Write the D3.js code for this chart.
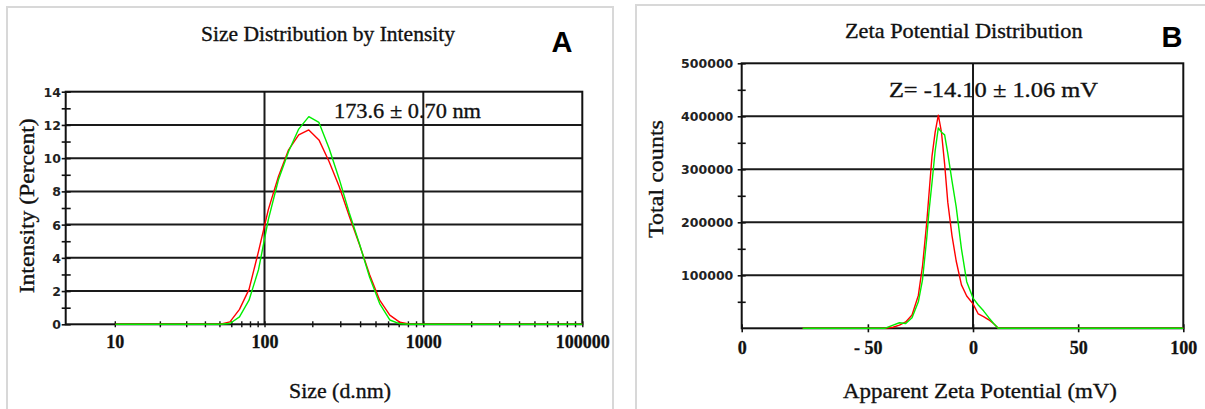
<!DOCTYPE html>
<html>
<head>
<meta charset="utf-8">
<script src="https://cdn.jsdelivr.net/npm/d3@7"></script>
<style>
  body { margin: 0; background: #fff; }
  svg { display: block; }
  .serif { font-family: "Liberation Serif", "Times New Roman", serif; fill: #111; stroke: #111; stroke-width: 0.35px; }
  .ylab { font-family: "DejaVu Sans", Verdana, sans-serif; font-weight: bold; font-size: 12.5px; fill: #222; }
  .xlab { font-family: "Liberation Serif", "Times New Roman", serif; font-weight: bold; font-size: 18px; fill: #111; stroke: #111; stroke-width: 0.3px; }
  .tag { font-family: "Liberation Sans", Arial, sans-serif; font-weight: bold; font-size: 29px; fill: #000; }
</style>
</head>
<body>
<svg id="chart" width="1205" height="409"></svg>
<script>
// ---- panel A: size distribution (Malvern bins, d.nm) ----
const sizeBins = [10.10, 11.70, 13.54, 15.69, 18.17, 21.04, 24.36, 28.21, 32.67, 37.84, 43.82, 50.75,
  58.77, 68.06, 78.82, 91.28, 105.7, 122.4, 141.8, 164.2, 190.1, 220.2, 255.0, 295.3, 342.0, 396.1,
  458.7, 531.2, 615.1, 712.4, 825.0, 955.4, 1106, 1281, 1484, 1718, 1990, 2305, 2669, 3091, 3580,
  4145, 4801, 5560, 6439, 7456, 8635, 10000];
const intensityRed = [0, 0, 0, 0, 0, 0, 0, 0, 0, 0, 0, 0,
  0.15, 0.9, 2.1, 4.4, 6.9, 8.9, 10.5, 11.4, 11.7, 11.1, 9.8, 8.3, 6.5, 4.8,
  3.0, 1.45, 0.55, 0.12, 0, 0, 0, 0, 0, 0, 0, 0, 0, 0, 0,
  0, 0, 0, 0, 0, 0, 0];
const intensityGreen = [0, 0, 0, 0, 0, 0, 0, 0, 0, 0, 0, 0,
  0.05, 0.45, 1.45, 3.3, 6.3, 8.7, 10.4, 11.75, 12.5, 12.15, 10.6, 8.75, 6.7, 4.85,
  2.85, 1.25, 0.26, 0.03, 0, 0, 0, 0, 0, 0, 0, 0, 0, 0, 0,
  0, 0, 0, 0, 0, 0, 0];
const sizeTicks = [10, 100, 1000, 10000];
const sizeTickLabels = ["10", "100", "1000", "100000"];
const intensityTicks = [0, 2, 4, 6, 8, 10, 12, 14];

// ---- panel B: zeta potential ----
const zetaMv = [-81, -42, -38, -35, -32, -29, -26, -24, -22, -21, -19.5, -18, -16.5, -15, -13.5,
  -12, -10, -8, -5.5, -3, 0, 2.5, 5, 7.5, 10, 12, 100];
const countsRed = [0, 0, 2000, 6000, 12000, 25000, 62000, 118000, 200000, 250000, 325000, 370000, 402000, 370000, 310000,
  238000, 175000, 127000, 82000, 61000, 46000, 27000, 22000, 16000, 8000, 0, 0];
const countsGreen = [0, 0, 6000, 10500, 9000, 20000, 50000, 92000, 170000, 218000, 275000, 335000, 378000, 370000, 365000,
  330000, 278000, 229000, 150000, 88000, 57000, 44000, 33000, 20000, 8000, 0, 0];
const zetaTicks = [-110, -50, 0, 50, 100];
const zetaTickLabels = ["0", "- 50", "0", "50", "100"];
const countTicks = [100000, 200000, 300000, 400000, 500000];

const svg = d3.select("#chart");

// panel frames
svg.append("rect").attr("x", 7).attr("y", 7).attr("width", 606).attr("height", 420)
  .attr("fill", "none").attr("stroke", "#d8d8d8").attr("stroke-width", 2);
svg.append("rect").attr("x", 636).attr("y", 5).attr("width", 600).attr("height", 420)
  .attr("fill", "none").attr("stroke", "#d8d8d8").attr("stroke-width", 2);

function text(x, y, str, cls, opts = {}) {
  const t = svg.append("text").attr("class", cls).attr("x", x).attr("y", y).text(str)
    .attr("text-anchor", opts.anchor || "middle");
  if (opts.size) t.style("font-size", opts.size + "px");
  if (opts.len) t.attr("textLength", opts.len).attr("lengthAdjust", "spacingAndGlyphs");
  if (opts.rotate) t.attr("transform", `rotate(-90 ${x} ${y})`);
  return t;
}

function frame(box, xs, ys, hLines, vLines) {
  const g = svg.append("g").attr("stroke", "#1a1a1a").attr("stroke-width", 2);
  g.selectAll("line.h").data(hLines).join("line").attr("class", "h")
    .attr("x1", box.left).attr("x2", box.right)
    .attr("y1", d => ys(d)).attr("y2", d => ys(d));
  g.selectAll("line.v").data(vLines).join("line").attr("class", "v")
    .attr("y1", box.top).attr("y2", box.bottom)
    .attr("x1", d => xs(d)).attr("x2", d => xs(d));
  g.append("rect").attr("x", box.left).attr("y", box.top)
    .attr("width", box.right - box.left).attr("height", box.bottom - box.top)
    .attr("fill", "none").attr("stroke", "#111").attr("stroke-width", 2);
}

function curve(xs, ys, xv, yv, color) {
  svg.append("path")
    .datum(d3.zip(xv, yv))
    .attr("fill", "none").attr("stroke", color).attr("stroke-width", 1.4)
    .attr("stroke-linejoin", "round")
    .attr("d", d3.line().x(d => xs(d[0])).y(d => ys(d[1])));
}

// ================= Panel A =================
const boxA = { left: 65.7, top: 91.7, right: 582.3, bottom: 324.3 };
const xA = d3.scaleLog().domain(sizeTicks).range([114.8, 264.5, 423.3, 582.3]);
const yA = d3.scaleLinear().domain([0, 14]).range([boxA.bottom, boxA.top]);

text(328, 40.7, "Size Distribution by Intensity", "serif", { size: 21.5, len: 254 });
text(562, 51.7, "A", "tag");
text(407.5, 118, "173.6 \u00b1 0.70 nm", "serif", { size: 22, len: 147 });

frame(boxA, xA, yA, intensityTicks.slice(1, -1), [100, 1000]);

const yAxisA = svg.append("g").attr("transform", `translate(${boxA.left},0)`)
  .call(d3.axisLeft(yA).tickValues(d3.range(0, 15, 1)).tickSize(4).tickPadding(0.7)
    .tickFormat(d => intensityTicks.includes(d) ? d : ""));
yAxisA.select(".domain").remove();
yAxisA.selectAll(".tick line").attr("x1", 5).attr("stroke", "#111").attr("stroke-width", 1.6);
yAxisA.selectAll(".tick text").attr("class", "ylab").attr("dy", "0.36em");

const minorA = [];
for (let p = 10; p < 10000; p *= 10) for (let k = 2; k <= 9; k++) minorA.push(k * p);
const xAxisA = svg.append("g").attr("transform", `translate(0,${boxA.bottom})`)
  .call(d3.axisBottom(xA).tickValues(sizeTicks.concat(minorA)).tickSize(3).tickPadding(8)
    .tickFormat(d => { const i = sizeTicks.indexOf(d); return i >= 0 ? sizeTickLabels[i] : ""; }));
xAxisA.select(".domain").remove();
xAxisA.selectAll(".tick line").attr("y1", -3).attr("stroke", "#111").attr("stroke-width", 1.4);
xAxisA.selectAll(".tick text").attr("class", "xlab");

curve(xA, yA, sizeBins, intensityRed, "#ff0000");
curve(xA, yA, sizeBins, intensityGreen, "#00ee00");

text(34, 205.8, "Intensity (Percent)", "serif", { size: 20, len: 175, rotate: true });
text(340, 398, "Size (d.nm)", "serif", { size: 21.5, len: 102 });

// ================= Panel B =================
const boxB = { left: 741.7, top: 63.3, right: 1183.3, bottom: 328.3 };
const xB = d3.scaleLinear().domain([-110, 100]).range([boxB.left, boxB.right]);
const yB = d3.scaleLinear().domain([0, 500000]).range([boxB.bottom, boxB.top]);

text(963.8, 37.7, "Zeta Potential Distribution", "serif", { size: 21.5, len: 237.6 });
text(1172, 46.7, "B", "tag");
text(993.4, 96.7, "Z= -14.10 \u00b1 1.06 mV", "serif", { size: 22, len: 209 });

frame(boxB, xB, yB, countTicks.slice(0, -1), [0]);

const yAxisB = svg.append("g").attr("transform", `translate(${boxB.left},0)`)
  .call(d3.axisLeft(yB).tickValues(d3.range(50000, 500001, 50000)).tickSize(4).tickPadding(4.4)
    .tickFormat(d => countTicks.includes(d) ? d : ""));
yAxisB.select(".domain").remove();
yAxisB.selectAll(".tick line").attr("x1", 4).attr("stroke", "#111").attr("stroke-width", 1.6);
yAxisB.selectAll(".tick text").attr("class", "ylab").attr("dy", "0.36em");

const xAxisB = svg.append("g").attr("transform", `translate(0,${boxB.bottom})`)
  .call(d3.axisBottom(xB).tickValues(zetaTicks).tickSize(4).tickPadding(9)
    .tickFormat((d, i) => zetaTickLabels[i]));
xAxisB.select(".domain").remove();
xAxisB.selectAll(".tick line").attr("y1", -4).attr("stroke", "#111").attr("stroke-width", 1.6);
xAxisB.selectAll(".tick text").attr("class", "xlab");

curve(xB, yB, zetaMv, countsRed, "#ff0000");
curve(xB, yB, zetaMv, countsGreen, "#00ee00");

text(663, 179, "Total counts", "serif", { size: 22, len: 118, rotate: true });
text(980, 398, "Apparent Zeta Potential (mV)", "serif", { size: 21.5, len: 274 });
</script>
</body>
</html>
